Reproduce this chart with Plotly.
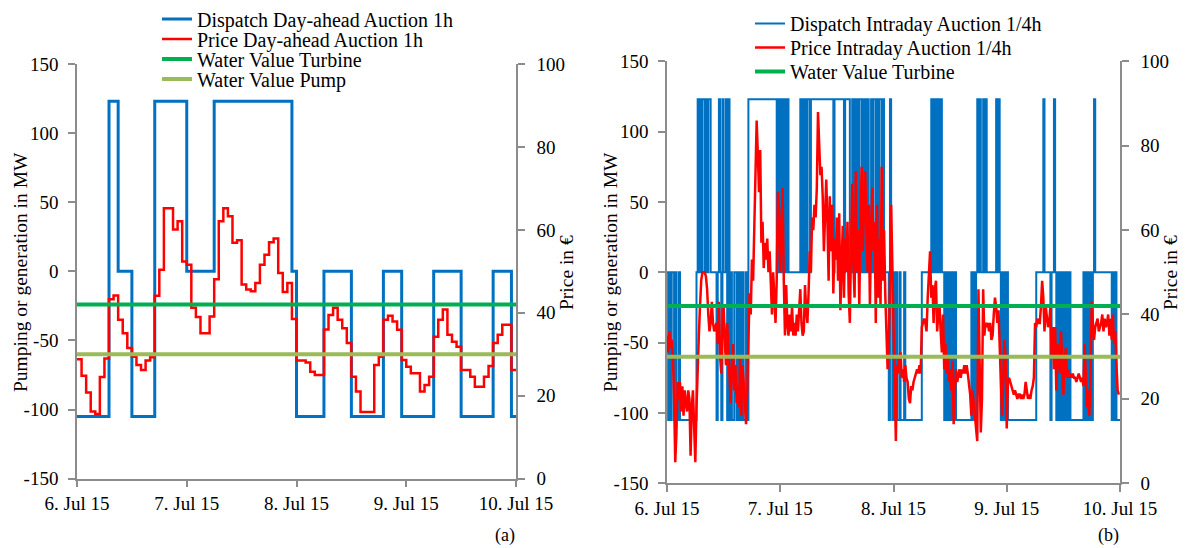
import pandas as pd
import plotly.graph_objects as go

# ---------------- data ----------------
start_time = "2015-07-06 00:00"
end_time = "2015-07-10 00:00"
day_ticks = ["2015-07-06", "2015-07-07", "2015-07-08", "2015-07-09", "2015-07-10"]
day_labels = ["6. Jul 15", "7. Jul 15", "8. Jul 15", "9. Jul 15", "10. Jul 15"]
mw_ticks = [-150, -100, -50, 0, 50, 100, 150]
mw_labels = ["-150", "-100", "-50", "0", "50", "100", "150"]
price_ticks = [0, 20, 40, 60, 80, 100]

# (a) day-ahead auction, hourly (96 h)
da_dispatch = [
    -105, -105, -105, -105, -105, -105, -105, 123, 123, 0, 0, 0,
    -105, -105, -105, -105, -105, 123, 123, 123, 123, 123, 123, 123,
    0, 0, 0, 0, 0, 0, 123, 123, 123, 123, 123, 123,
    123, 123, 123, 123, 123, 123, 123, 123, 123, 123, 123, 0,
    -105, -105, -105, -105, -105, -105, 0, 0, 0, 0, 0, 0,
    -105, -105, -105, -105, -105, -105, -105, 0, 0, 0, 0, -105,
    -105, -105, -105, -105, -105, -105, 0, 0, 0, 0, 0, 0,
    -105, -105, -105, -105, -105, -105, -105, 0, 0, 0, 0, -105,
]
da_price = [
    28.8, 24.8, 20.8, 16.2, 15.6, 24.5, 29.0, 43.3, 44.2, 38.3, 35.1, 31.5,
    29.4, 27.4, 26.2, 28.5, 29.3, 44.1, 50.4, 65.2, 65.2, 60.1, 62.1, 52.4,
    51.6, 41.2, 39.0, 35.1, 35.1, 39.1, 48.1, 62.1, 65.2, 63.3, 56.9, 57.5,
    46.8, 45.6, 45.2, 47.2, 51.6, 54.0, 57.0, 57.9, 49.6, 45.0, 47.2, 38.5,
    28.5, 28.5, 28.0, 25.8, 25.0, 25.0, 36.0, 39.5, 41.2, 38.3, 36.3, 32.7,
    24.6, 21.0, 16.1, 16.1, 16.1, 27.4, 29.4, 38.3, 39.3, 37.9, 35.9, 28.6,
    27.0, 25.4, 25.4, 21.0, 22.6, 24.6, 34.2, 38.3, 40.8, 34.7, 33.0, 31.8,
    26.2, 26.2, 24.6, 22.2, 22.2, 24.6, 27.2, 32.7, 34.7, 37.1, 37.1, 26.2,
]

# (b) intraday auction, quarter-hourly (384 x 1/4 h), 4 values per hour
id_dispatch = [
    0, -105, 0, -105,  0, 0, -105, 0,  -105, -105, 0, -105,  -105, -105, -105, -105,  -105, -105, -105, -105,  -105, -105, -105, -105,
    -105, 0, 123, 0,  123, 0, 123, 123,  0, 123, 0, 123,  123, 0, 0, 0,  0, 0, -105, 0,  123, 0, -105, 123,
    0, 0, 123, -105,  123, -105, 0, -105,  -105, 0, 0, -105,  0, -105, 0, -105,  0, -105, -105, 0,  -105, 123, 123, 123,
    123, 123, 123, 123,  123, 123, 123, 123,  123, 123, 123, 123,  123, 123, 123, 123,  123, 123, 123, 123,  123, 0, 123, 0,
    123, 0, 123, 0,  123, 0, 123, 0,  0, 0, 0, 0,  0, 0, 0, 0,  0, 123, 0, 123,  0, 123, 0, 123,
    123, 0, 123, 123,  123, 123, 123, 123,  123, 123, 123, 123,  123, 123, 123, 123,  123, 123, 123, 123,  123, 0, 123, 123,
    123, 123, 123, 123,  123, 123, 0, 123,  123, 123, 123, 0,  0, 123, 0, 123,  0, 123, 0, 123,  123, 0, 123, 0,
    123, 0, 123, 0,  0, 123, 0, 123,  123, 0, 123, 0,  123, 123, 0, 123,  0, 0, 0, 0,  -105, 123, 0, -105,
    0, -105, 0, -105,  -105, 0, -105, -105,  -105, 0, -105, -105,  -105, -105, -105, -105,  -105, -105, -105, -105,  -105, -105, -105, -105,
    0, 0, 0, 0,  0, 0, 0, 0,  123, 0, 123, 0,  123, 0, 123, 0,  123, 0, 0, -105,  0, -105, 0, -105,
    0, -105, 0, -105,  0, -105, -105, -105,  -105, -105, -105, -105,  -105, -105, -105, -105,  -105, -105, 0, -105,  0, -105, 0, 123,
    0, 123, 0, 0,  123, 0, 123, 0,  0, 0, 0, 0,  0, 0, 0, 123,  0, 123, 0, -105,  0, -105, 0, -105,
    0, -105, -105, -105,  -105, -105, -105, -105,  -105, -105, -105, -105,  -105, -105, -105, -105,  -105, -105, -105, -105,  -105, -105, -105, -105,
    -105, 0, 0, 0,  0, 0, 0, 123,  0, 0, 0, 0,  0, -105, 0, 0,  123, 0, -105, 0,  -105, 0, -105, 0,
    -105, 0, -105, 0,  -105, 0, -105, -105,  -105, -105, -105, -105,  -105, -105, -105, -105,  -105, 0, -105, 0,  -105, 0, -105, 0,
    -105, 0, 123, 0,  0, 0, 0, 0,  0, 0, 0, 0,  0, 0, 0, 0,  0, -105, 0, -105,  0, -105, -105, -105,
]
id_price = [
    35, 31, 36, 32,  34, 30, 20, 5,  12, 24, 20, 24,  17, 23, 16, 22,  19, 17, 22, 20,  6.5, 18, 22, 13,
    5, 18, 30, 35,  42, 48, 50, 50,  50, 49, 46, 40,  36, 38, 43, 38,  36, 37, 38, 33,  43, 30, 26, 37,
    42, 34, 28, 38,  32, 26, 19, 28,  33, 22, 28, 19,  23, 18, 30, 16,  28, 24, 17, 14,  22, 36, 45, 40,
    53, 48, 60, 72,  86, 78, 69, 79,  57, 62, 51, 57,  53, 58, 50, 55,  45, 40, 50, 42,  38, 48, 69, 65,
    50, 58, 70, 48,  35, 47, 38, 35,  40, 36, 42, 35,  38, 35, 40, 36,  42, 46, 38, 35,  36, 47, 41, 38,
    45, 55, 50, 63,  60, 66, 63, 70,  88, 80, 73, 75,  68, 55, 63, 72,  62, 48, 68, 55,  66, 45, 58, 53,
    63, 48, 64, 41,  52, 61, 44, 58,  50, 62, 45, 38,  56, 71, 52, 44,  74, 50, 60, 42,  63, 75, 55, 66,
    74, 63, 50, 66,  42, 60, 70, 55,  62, 38, 66, 44,  58, 42, 75, 48,  60, 45, 33, 27,  34, 46, 66, 50,
    33, 22, 10, 28,  26, 30, 31, 25,  27, 24, 28, 25,  24, 20, 19, 23,  22, 24, 25, 26,  27, 26, 28, 26,
    37, 38, 39, 38,  36, 44, 52, 55,  44, 47, 38, 46,  48, 36, 40, 42,  36, 31, 40, 27,  33, 26, 30, 24,
    27, 22, 29, 14,  22, 27, 24, 26,  27, 25, 27, 26,  28, 26, 28, 26,  23, 21, 16, 22,  19, 16, 12, 10,
    46, 30, 12, 20,  46, 35, 38, 37,  38, 36, 38, 34,  35, 40, 44, 42,  38, 41, 32, 22,  16, 25, 34, 30,
    13, 24, 25, 24,  23, 22, 21, 22,  21, 20, 21, 21,  20, 21, 20, 21,  24, 22, 20, 21,  20, 22, 23, 25,
    38, 37, 39, 38,  38, 42, 48, 44,  36, 42, 40, 37,  38, 42, 30, 37,  27, 37, 22, 33,  30, 26, 36, 29,
    21, 28, 32, 25,  27, 25, 26, 25,  26, 25, 25, 24,  25, 26, 25, 24,  25, 23, 33, 26,  18, 22, 16, 25,
    43, 38, 34, 37,  38, 39, 36, 37,  38, 40, 36, 39,  37, 38, 40, 35,  39, 34, 40, 33,  36, 28, 22, 21,
]
water_value_turbine = 42
water_value_pump = 30

# ---------------- style ----------------
FONT = "Liberation Serif"
BLUE = "#0070C0"
RED = "#FF0000"
GREEN = "#00B050"
OLIVE = "#9BBB59"
AXIS = "#8C8C8C"
W, H = 1191, 548

t_h = pd.date_range(start_time, periods=len(da_dispatch) + 1, freq="h")
t_q = pd.date_range(start_time, periods=len(id_dispatch) + 1, freq="15min")
span = [pd.Timestamp(start_time), pd.Timestamp(end_time)]

fig = go.Figure()
# panel (a)
fig.add_trace(go.Scatter(x=t_h, y=da_dispatch + [da_dispatch[-1]], mode="lines", line=dict(color=BLUE, width=3, shape="hv"),
                         name="Dispatch Day-ahead Auction 1h", xaxis="x", yaxis="y", legend="legend"))
fig.add_trace(go.Scatter(x=t_h, y=da_price + [da_price[-1]], mode="lines", line=dict(color=RED, width=2.5, shape="hv"),
                         name="Price Day-ahead Auction 1h", xaxis="x", yaxis="y2", legend="legend2"))
fig.add_trace(go.Scatter(x=span, y=[water_value_turbine] * 2, mode="lines", line=dict(color=GREEN, width=4),
                         name="Water Value Turbine", xaxis="x", yaxis="y2", legend="legend3"))
fig.add_trace(go.Scatter(x=span, y=[water_value_pump] * 2, mode="lines", line=dict(color=OLIVE, width=4),
                         name="Water Value Pump", xaxis="x", yaxis="y2", legend="legend4"))
# panel (b)
fig.add_trace(go.Scatter(x=t_q, y=id_dispatch + [id_dispatch[-1]], mode="lines", line=dict(color=BLUE, width=2, shape="hv"),
                         name="Dispatch Intraday Auction 1/4h", xaxis="x2", yaxis="y3", legend="legend5"))
fig.add_trace(go.Scatter(x=t_q[:-1], y=id_price, mode="lines", line=dict(color=RED, width=2.5),
                         name="Price Intraday Auction 1/4h", xaxis="x2", yaxis="y4", legend="legend6"))
fig.add_trace(go.Scatter(x=span, y=[water_value_turbine] * 2, mode="lines", line=dict(color=GREEN, width=4),
                         name="Water Value Turbine", xaxis="x2", yaxis="y4", legend="legend7"))
fig.add_trace(go.Scatter(x=span, y=[water_value_pump] * 2, mode="lines", line=dict(color=OLIVE, width=4),
                         name="Water Value Pump", xaxis="x2", yaxis="y4", showlegend=False))

tickfont = dict(family=FONT, size=19, color="black")
common = dict(showline=True, linecolor=AXIS, linewidth=1.5, ticks="outside", ticklen=7, tickcolor=AXIS,
              tickwidth=1.5, showgrid=False, zeroline=False, tickfont=tickfont, automargin=False)


def xax(domain, anchor):
    return dict(domain=domain, anchor=anchor, range=span, tickvals=day_ticks, ticktext=day_labels, **common)


def yax_left(domain, anchor):
    return dict(domain=domain, anchor=anchor, range=[-150, 150], tickvals=mw_ticks, ticktext=mw_labels,
                ticklabelstandoff=6, **common)


def yax_right(overlay, anchor):
    return dict(overlaying=overlay, anchor=anchor, side="right", range=[0, 100], tickvals=price_ticks,
                ticklabelstandoff=8, **common)


xa = [77 / W, 516 / W]
ya = [1 - 478.7 / H, 1 - 64 / H]
xb = [667 / W, 1120 / W]
yb = [1 - 483.2 / H, 1 - 61.4 / H]

legfont = dict(family=FONT, size=20, color="black")


def leg(xpx, ypx):
    return dict(x=xpx / W, y=1 - ypx / H, xanchor="left", yanchor="middle", font=legfont,
                bgcolor="rgba(0,0,0,0)", borderwidth=0, itemwidth=30)


ann = []
def text(s, xpx, ypx, angle=0, size=19.5):
    ann.append(dict(text=s, x=xpx / W, y=1 - ypx / H, xref="paper", yref="paper", showarrow=False,
                    textangle=angle, xanchor="center", yanchor="middle", font=dict(family=FONT, size=size, color="black")))

text("Pumping or generation in MW", 20, 272, -90)
text("Price in €", 567, 273, -90)
text("Pumping or generation in MW", 610, 272, -90)
text("Price in €", 1171, 273, -90)
text("(a)", 505, 535, 0, 18)
text("(b)", 1108, 535, 0, 18)

fig.update_layout(
    width=W, height=H, margin=dict(l=0, r=0, t=0, b=0, autoexpand=False),
    paper_bgcolor="white", plot_bgcolor="white",
    xaxis=xax(xa, "y"), yaxis=yax_left(ya, "x"), yaxis2=yax_right("y", "x"),
    xaxis2=xax(xb, "y3"), yaxis3=yax_left(yb, "x2"), yaxis4=yax_right("y3", "x2"),
    legend=leg(157, 19), legend2=leg(157, 39), legend3=leg(157, 59), legend4=leg(157, 79),
    legend5=leg(750, 23.5), legend6=leg(750, 47.5), legend7=leg(750, 71.5),
    annotations=ann,
    showlegend=True,
)

fig.write_html("out.html")
